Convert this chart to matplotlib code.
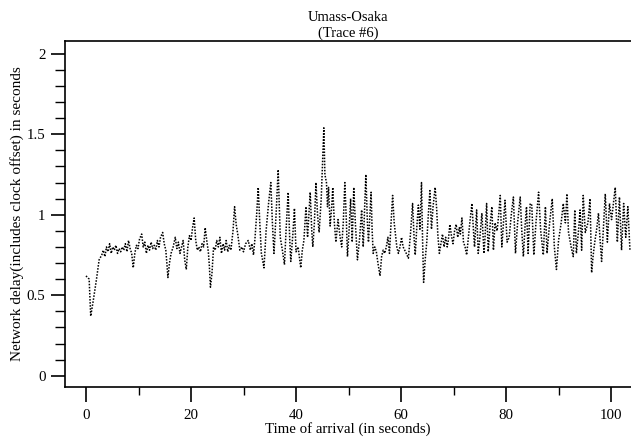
"""Network delay trace, Umass-Osaka (trace #6)."""

import matplotlib

matplotlib.use("Agg")  # Use non-interactive backend
import matplotlib.pyplot as plt
from matplotlib.ticker import MultipleLocator

arrival = [
    0.0, 0.6, 0.9, 1.4, 2.0, 2.5, 3.0,
    3.3, 3.6, 3.9, 4.2, 4.5, 4.8, 5.1, 5.4, 5.7, 6.0, 6.3, 6.6, 6.9, 7.2,
    7.5, 7.8, 8.1, 8.4, 8.7, 9.0, 9.3, 9.6, 9.9, 10.2, 10.6, 10.9, 11.2,
    11.5, 11.8, 12.1, 12.4, 12.7, 13.0, 13.3, 13.6, 13.9, 14.2, 14.6, 14.9,
    15.2, 15.4, 15.6, 15.9, 16.2, 16.6, 17.0, 17.3, 17.6, 17.9, 18.2, 18.5,
    18.8, 19.1, 19.4, 19.7, 20.0, 20.3, 20.6, 20.9, 21.2, 21.5, 21.8, 22.1,
    22.4, 22.7, 23.0, 23.3, 23.5, 23.7, 24.0, 24.3, 24.6, 24.9, 25.2, 25.5,
    25.8, 26.1, 26.4, 26.7, 27.0, 27.3, 27.6, 28.0, 28.3, 28.6, 28.9, 29.3,
    29.7, 30.0, 30.4, 30.9, 31.3, 31.6, 31.9, 32.2, 32.5, 32.8, 33.1, 33.4,
    33.9, 34.3, 34.8, 35.2, 35.5, 35.8, 36.2, 36.6, 37.0, 37.4, 37.8, 38.1,
    38.5, 38.8, 39.0, 39.4, 39.7, 40.0, 40.4, 40.9, 41.2, 41.5, 41.9, 42.2,
    42.7, 43.0, 43.2, 43.5, 43.8, 44.1, 44.4, 44.8, 45.3, 45.5, 45.8, 46.0,
    46.2, 46.5, 46.8, 47.0, 47.3, 47.6, 48.0, 48.4, 48.7, 49.0, 49.3, 49.6,
    49.8, 50.1, 50.4, 50.7, 51.0, 51.3, 51.7, 52.1, 52.5, 52.8, 53.3, 53.6,
    53.8, 54.3, 54.5, 54.7, 55.0, 55.3, 55.6, 56.0, 56.3, 56.6, 56.9, 57.2,
    57.5, 57.8, 58.1, 58.4, 58.7, 58.9, 59.2, 59.5, 59.8, 60.1, 60.4, 60.7,
    61.0, 61.4, 61.8, 62.2, 62.5, 62.7, 63.0, 63.3, 63.6, 63.9, 64.1, 64.3,
    64.6, 64.9, 65.2, 65.5, 65.8, 66.1, 66.5, 66.8, 67.0, 67.3, 67.6, 67.9,
    68.2, 68.5, 68.8, 69.0, 69.3, 69.6, 69.9, 70.2, 70.5, 70.8, 71.1, 71.3,
    71.6, 71.9, 72.2, 72.5, 72.8, 73.1, 73.5, 73.8, 74.0, 74.4, 74.7, 75.0,
    75.4, 75.8, 76.0, 76.3, 76.6, 77.0, 77.3, 77.6, 77.9, 78.3, 78.6, 78.9,
    79.2, 79.5, 79.8, 80.2, 80.6, 81.0, 81.4, 81.8, 82.2, 82.7, 83.0, 83.3,
    83.6, 83.9, 84.2, 84.6, 84.9, 85.3, 85.7, 86.2, 86.6, 87.1, 87.5, 87.8,
    88.3, 88.8, 89.2, 89.6, 90.0, 90.5, 90.9, 91.3, 91.6, 91.9, 92.4, 92.8,
    93.1, 93.4, 93.8, 94.1, 94.4, 94.7, 95.1, 95.6, 96.0, 96.3, 96.6, 96.9,
    97.3, 97.6, 97.9, 98.2, 98.6, 98.9, 99.3, 99.7, 100.1, 100.8, 101.2,
    101.6, 102.0, 102.4, 102.8, 103.2, 103.6,
]
delay = [
    0.62, 0.60, 0.37, 0.47, 0.60, 0.72, 0.75,
    0.78, 0.74, 0.80, 0.77, 0.82, 0.76, 0.80, 0.78, 0.81, 0.76, 0.79, 0.77, 0.80, 0.78,
    0.82, 0.77, 0.84, 0.79, 0.76, 0.67, 0.76, 0.81, 0.79, 0.85, 0.88, 0.80, 0.83,
    0.76, 0.81, 0.78, 0.83, 0.79, 0.81, 0.78, 0.84, 0.80, 0.86, 0.89, 0.82,
    0.78, 0.70, 0.61, 0.70, 0.76, 0.80, 0.86, 0.79, 0.83, 0.76, 0.80, 0.84,
    0.72, 0.66, 0.80, 0.87, 0.84, 0.92, 0.98, 0.84, 0.78, 0.80, 0.77, 0.82,
    0.80, 0.92, 0.84, 0.77, 0.68, 0.55, 0.64, 0.80, 0.78, 0.84, 0.80, 0.86,
    0.76, 0.82, 0.78, 0.84, 0.77, 0.81, 0.78, 0.90, 1.05, 0.94, 0.88, 0.78,
    0.80, 0.77, 0.82, 0.84, 0.78, 0.82, 0.75, 0.86, 1.00, 1.17, 0.95, 0.76,
    0.67, 0.90, 1.08, 1.20, 0.95, 0.76, 1.00, 1.28, 0.86, 0.78, 0.69, 0.90,
    1.14, 0.85, 0.71, 0.88, 1.04, 0.77, 0.80, 0.67, 0.78, 0.84, 1.05, 0.86,
    1.14, 0.90, 0.80, 0.95, 1.20, 1.00, 0.89, 1.10, 1.54, 1.25, 1.20, 1.05,
    1.17, 0.93, 1.05, 1.17, 0.95, 0.83, 0.97, 0.86, 0.80, 0.95, 1.20, 0.95,
    0.74, 0.90, 1.10, 0.83, 1.17, 0.95, 0.72, 0.85, 1.03, 0.80, 1.25, 0.95,
    0.83, 1.14, 0.90, 0.76, 0.80, 0.77, 0.70, 0.62, 0.74, 0.78, 0.76, 0.80,
    0.86, 0.76, 0.95, 1.12, 0.95, 0.89, 0.80, 0.76, 0.80, 0.86, 0.80, 0.78,
    0.76, 0.73, 0.88, 1.07, 0.85, 0.75, 0.92, 1.06, 0.91, 1.20, 0.85, 0.58,
    0.72, 0.83, 1.00, 1.15, 0.91, 1.05, 1.17, 1.03, 0.88, 0.76, 0.82, 0.88,
    0.80, 0.86, 0.80, 0.84, 0.94, 0.87, 0.82, 0.90, 0.94, 0.86, 0.92, 0.88,
    0.98, 0.83, 0.80, 0.75, 0.85, 0.95, 1.07, 0.90, 0.80, 1.03, 0.76, 0.85,
    1.01, 0.76, 0.86, 1.07, 0.77, 0.95, 1.05, 0.78, 0.95, 0.90, 1.00, 1.12,
    0.80, 0.95, 1.09, 0.83, 0.86, 1.00, 1.11, 0.76, 0.95, 1.11, 0.90, 0.74,
    0.92, 1.05, 0.76, 1.07, 1.06, 0.75, 0.95, 1.14, 0.90, 0.75, 1.05, 0.76,
    0.95, 1.10, 0.80, 0.66, 0.84, 0.95, 1.07, 0.95, 1.13, 0.89, 0.80, 0.74,
    1.03, 0.76, 0.90, 1.03, 0.78, 1.12, 0.89, 0.95, 1.10, 0.64, 0.75, 0.83,
    0.92, 1.01, 0.85, 0.71, 0.95, 1.13, 0.83, 1.07, 0.97, 1.17, 0.83,
    1.11, 0.78, 1.07, 0.86, 1.05, 0.78,
]

plt.rcParams["font.family"] = ["Liberation Serif", "DejaVu Serif"]
plt.rcParams["font.size"] = 10.7

fig = plt.figure(figsize=(6.31, 4.40), dpi=100)
ax = fig.add_axes([0.103, 0.1205, 0.897, 0.7865])

ax.plot(arrival, delay, color="black", linewidth=1.1, linestyle=(0, (1, 1)))

ax.set_xlim(-4, 103.8)
ax.set_ylim(-0.07, 2.08)
ax.xaxis.set_major_locator(MultipleLocator(20))
ax.xaxis.set_minor_locator(MultipleLocator(10))
ax.yaxis.set_major_locator(MultipleLocator(0.5))
ax.yaxis.set_minor_locator(MultipleLocator(0.1))
ax.yaxis.set_major_formatter(lambda v, _: f"{v:g}")
ax.tick_params(which="major", direction="out", length=10, width=1.2, pad=4)
ax.tick_params(which="minor", direction="out", length=7, width=1.0)
ax.tick_params(axis="x", which="minor", length=6)
ax.tick_params(axis="x", which="major", length=11, pad=5)

ax.spines["right"].set_visible(False)
for side in ("left", "top", "bottom"):
    ax.spines[side].set_linewidth(1.2)

ax.set_title("Umass-Osaka\n(Trace #6)", fontsize=10.5, pad=3, linespacing=1.25)
ax.set_xlabel("Time of arrival (in seconds)", labelpad=0)
ax.set_ylabel("Network delay(includes clock offset) in seconds",
              fontsize=11, labelpad=2)

fig.savefig("out.png", dpi=100)
